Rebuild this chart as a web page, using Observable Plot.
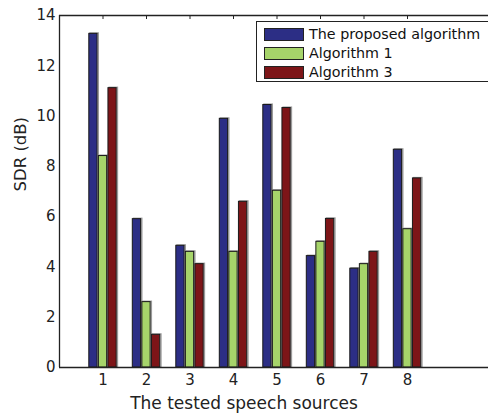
<!DOCTYPE html>
<html>
<head>
<meta charset="utf-8">
<script src="https://cdn.jsdelivr.net/npm/d3@7"></script>
<script src="https://cdn.jsdelivr.net/npm/@observablehq/plot@0.6"></script>
<style>
  html, body { margin: 0; padding: 0; background: #fff; overflow: hidden; }
  #wrap { position: relative; width: 488px; height: 415px; overflow: hidden; }
  #wrap svg { max-width: none !important; display: block; }
  #legend { position: absolute; left: 256px; top: 21px; width: 260px; height: 61px;
    border: 1px solid #222; background: #fff; box-sizing: border-box;
    font-family: "DejaVu Sans", sans-serif; font-size: 14.3px; color: #111; }
  .row { position: absolute; left: 7px; height: 14px; display: flex; align-items: center; }
  .sw { width: 40px; height: 13px; border: 1px solid #222; box-sizing: border-box; margin-right: 5px; }
</style>
</head>
<body>
<div id="wrap"></div>
<script>
const sources = [1, 2, 3, 4, 5, 6, 7, 8];
const series = ["The proposed algorithm", "Algorithm 1", "Algorithm 3"];
const colors = ["#2c2e85", "#a6d46a", "#7d1518"];
const proposed = [13.27, 5.9, 4.84, 9.89, 10.44, 4.43, 3.93, 8.66];
const algo1 = [8.41, 2.6, 4.6, 4.6, 7.03, 5.0, 4.11, 5.5];
const algo3 = [11.11, 1.3, 4.11, 6.59, 10.32, 5.91, 4.6, 7.52];
const yTicks = [0, 2, 4, 6, 8, 10, 12, 14];

const values = [proposed, algo1, algo3];
const offsets = [-0.22, 0, 0.22];
const barW = 0.19;
const data = [];
series.forEach((s, si) => sources.forEach((src, i) => data.push({src, series: s, si, value: values[si][i]})));

const font = "DejaVu Sans, sans-serif";
const chart = Plot.plot({
  width: 494, height: 415,
  marginLeft: 59, marginRight: 0, marginTop: 15, marginBottom: 48,
  style: {fontFamily: font, fontSize: "15px", color: "#222", background: "#fff"},
  x: {domain: [0, 10], label: null},
  y: {domain: [0, 14], label: null},
  color: {domain: series, range: colors},
  marks: [
    Plot.rect(data, {x1: d => d.src + offsets[d.si] - barW / 2, x2: d => d.src + offsets[d.si] + barW / 2,
      y1: 0, y2: "value", fill: "none", stroke: "#9a9a9a", strokeWidth: 1.5, dx: 1.2, dy: -0.3}),
    Plot.rect(data, {x1: d => d.src + offsets[d.si] - barW / 2, x2: d => d.src + offsets[d.si] + barW / 2,
      y1: 0, y2: "value", fill: "series", stroke: "#1a1a1a", strokeWidth: 1}),
    Plot.ruleX(sources, {x: d => d, y1: 14, y2: 13.84, stroke: "#222", strokeWidth: 1}),
    Plot.ruleY([0, 14], {stroke: "#222", strokeWidth: 1.3}),
    Plot.ruleX([0], {stroke: "#222", strokeWidth: 1.3}),
    Plot.axisX(sources, {tickSize: 0, tickPadding: 7, fontSize: 15, tickFormat: d => String(d)}),
    Plot.axisY(yTicks, {tickSize: 0, tickPadding: 4, fontSize: 15}),
    Plot.text(["The tested speech sources"], {frameAnchor: "bottom", dx: -33, dy: 41, fontSize: 17, fill: "#222"}),
    Plot.text(["SDR (dB)"], {frameAnchor: "left", dx: -39, rotate: -90, fontSize: 16.5, fill: "#222"})
  ]
});
const wrap = document.getElementById("wrap");
wrap.appendChild(chart);

const legend = document.createElement("div");
legend.id = "legend";
series.forEach((s, i) => {
  const row = document.createElement("div");
  row.className = "row";
  row.style.top = (5 + i * 19) + "px";
  const sw = document.createElement("span");
  sw.className = "sw";
  sw.style.background = colors[i];
  const t = document.createElement("span");
  t.textContent = s;
  row.appendChild(sw); row.appendChild(t);
  legend.appendChild(row);
});
wrap.appendChild(legend);
</script>
</body>
</html>
